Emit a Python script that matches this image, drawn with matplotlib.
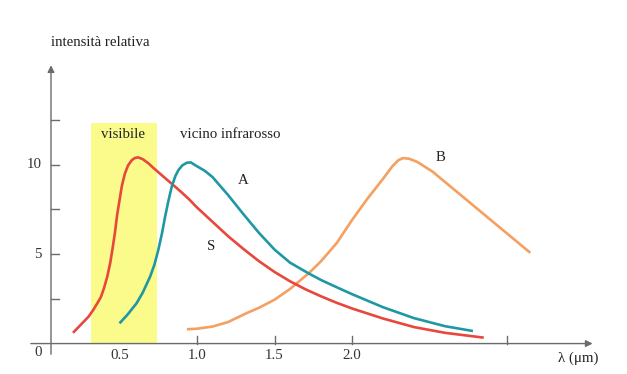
import matplotlib
matplotlib.use("Agg")
import matplotlib.pyplot as plt

# curve S (sun) - wavelength in um, relative intensity
s_x = [0.20, 0.25, 0.30, 0.33, 0.36, 0.38, 0.40, 0.42, 0.44, 0.455, 0.47,
       0.485, 0.50, 0.515, 0.535, 0.555, 0.58, 0.60, 0.62, 0.65, 0.686, 0.72,
       0.76, 0.80, 0.847, 0.90, 0.95, 1.00, 1.10, 1.20, 1.30, 1.40, 1.50,
       1.60, 1.70, 1.80, 1.90, 2.00, 2.20, 2.40, 2.60, 2.85]
s_y = [0.60, 1.05, 1.50, 1.87, 2.30, 2.60, 3.10, 3.70, 4.50, 5.30, 6.16,
       7.20, 8.00, 8.80, 9.50, 9.95, 10.25, 10.37, 10.40, 10.30, 10.07, 9.80,
       9.50, 9.20, 8.85, 8.45, 8.05, 7.60, 6.80, 6.00, 5.28, 4.60, 4.00,
       3.48, 3.03, 2.64, 2.28, 1.96, 1.40, 0.92, 0.60, 0.33]

# curve A
a_x = [0.50, 0.55, 0.61, 0.65, 0.697, 0.725, 0.75, 0.775, 0.794, 0.815,
       0.837, 0.86, 0.88, 0.905, 0.934, 0.96, 0.987, 1.05, 1.10, 1.20, 1.30,
       1.40, 1.50, 1.60, 1.72, 1.80, 1.90, 2.00, 2.20, 2.40, 2.60, 2.78]
a_y = [1.13, 1.60, 2.25, 2.85, 3.73, 4.40, 5.22, 6.20, 7.08, 7.95,
       8.76, 9.35, 9.69, 9.95, 10.10, 10.12, 9.97, 9.65, 9.30, 8.30, 7.22,
       6.18, 5.25, 4.52, 3.92, 3.55, 3.15, 2.76, 2.03, 1.42, 0.97, 0.70]

# curve B
b_x = [0.935, 1.00, 1.10, 1.20, 1.32, 1.40, 1.50, 1.60, 1.72, 1.80, 1.90,
       2.00, 2.10, 2.20, 2.26, 2.30, 2.33, 2.37, 2.42, 2.52, 3.15]
b_y = [0.80, 0.83, 0.95, 1.20, 1.70, 2.00, 2.45, 3.05, 3.92, 4.60, 5.60,
       6.90, 8.10, 9.20, 9.90, 10.25, 10.36, 10.32, 10.15, 9.60, 5.07]

x_ticks = [1.0, 1.5, 2.0, 3.0]
x_labels = {0.5: "0.5", 1.0: "1.0", 1.5: "1.5", 2.0: "2.0"}
y_ticks = [2.5, 5.0, 7.5, 10.0, 12.5]
y_labels = {5.0: "5", 10.0: "10"}
visible_band = (0.314, 0.74)

plt.rcParams["font.family"] = ["Liberation Serif", "DejaVu Serif"]

fig = plt.figure(figsize=(6.27, 3.74), dpi=100)
ax = fig.add_axes([0, 0, 1, 1])
ax.set_xlim(-0.271, 3.774)
ax.set_ylim(-1.70, 19.19)
ax.axis("off")

axis_col = "#6b6b6b"
txt_col = "#222222"
fs = 10.7
y_axis_x = 0.058

# visible band
ax.fill_between(visible_band, [0, 0], [12.3, 12.3], color="#fbfb8c", lw=0, zorder=1)

# axes with arrows
ax.annotate("", xy=(3.57, 0), xytext=(-0.09, 0),
            arrowprops=dict(arrowstyle="-|>", color=axis_col, lw=1.0, mutation_scale=10))
ax.annotate("", xy=(y_axis_x, 15.7), xytext=(y_axis_x, -0.75),
            arrowprops=dict(arrowstyle="-|>", color=axis_col, lw=1.0, mutation_scale=10))

for t in x_ticks:
    ax.plot([t, t], [0, 0.4], color=axis_col, lw=1.0)
for t in y_ticks:
    ax.plot([y_axis_x, y_axis_x + 0.05], [t, t], color=axis_col, lw=1.0)

for t, lab in x_labels.items():
    ax.text(t, -0.65, lab, ha="center", va="center", fontsize=fs, color="#333333")
ax.text(-0.025, -0.5, "0", ha="center", va="center", fontsize=fs, color="#333333")
for t, lab in y_labels.items():
    ax.text(0.0, t, lab, ha="right", va="center", fontsize=fs, color="#333333")

# curves
line_kw = dict(lw=1.9, solid_capstyle="butt", solid_joinstyle="round")
ax.plot(s_x, s_y, color="#e8473b", zorder=3, **line_kw)
ax.plot(a_x, a_y, color="#1f98a3", zorder=3, **line_kw)
ax.plot(b_x, b_y, color="#f4a060", zorder=2, **line_kw)

# labels
ax.text(0.374, 16.84, "intensità relativa", ha="center", va="center", fontsize=fs, color=txt_col)
ax.text(3.46, -0.81, "λ (μm)", ha="center", va="center", fontsize=fs, color=txt_col)
ax.text(0.52, 11.7, "visibile", ha="center", va="center", fontsize=fs, color=txt_col)
ax.text(1.213, 11.7, "vicino infrarosso", ha="center", va="center", fontsize=fs, color=txt_col)
ax.text(1.30, 9.1, "A", ha="center", va="center", fontsize=fs, color=txt_col)
ax.text(1.09, 5.4, "S", ha="center", va="center", fontsize=fs, color=txt_col)
ax.text(2.57, 10.4, "B", ha="center", va="center", fontsize=fs, color=txt_col)

fig.savefig("out.png", dpi=100)
